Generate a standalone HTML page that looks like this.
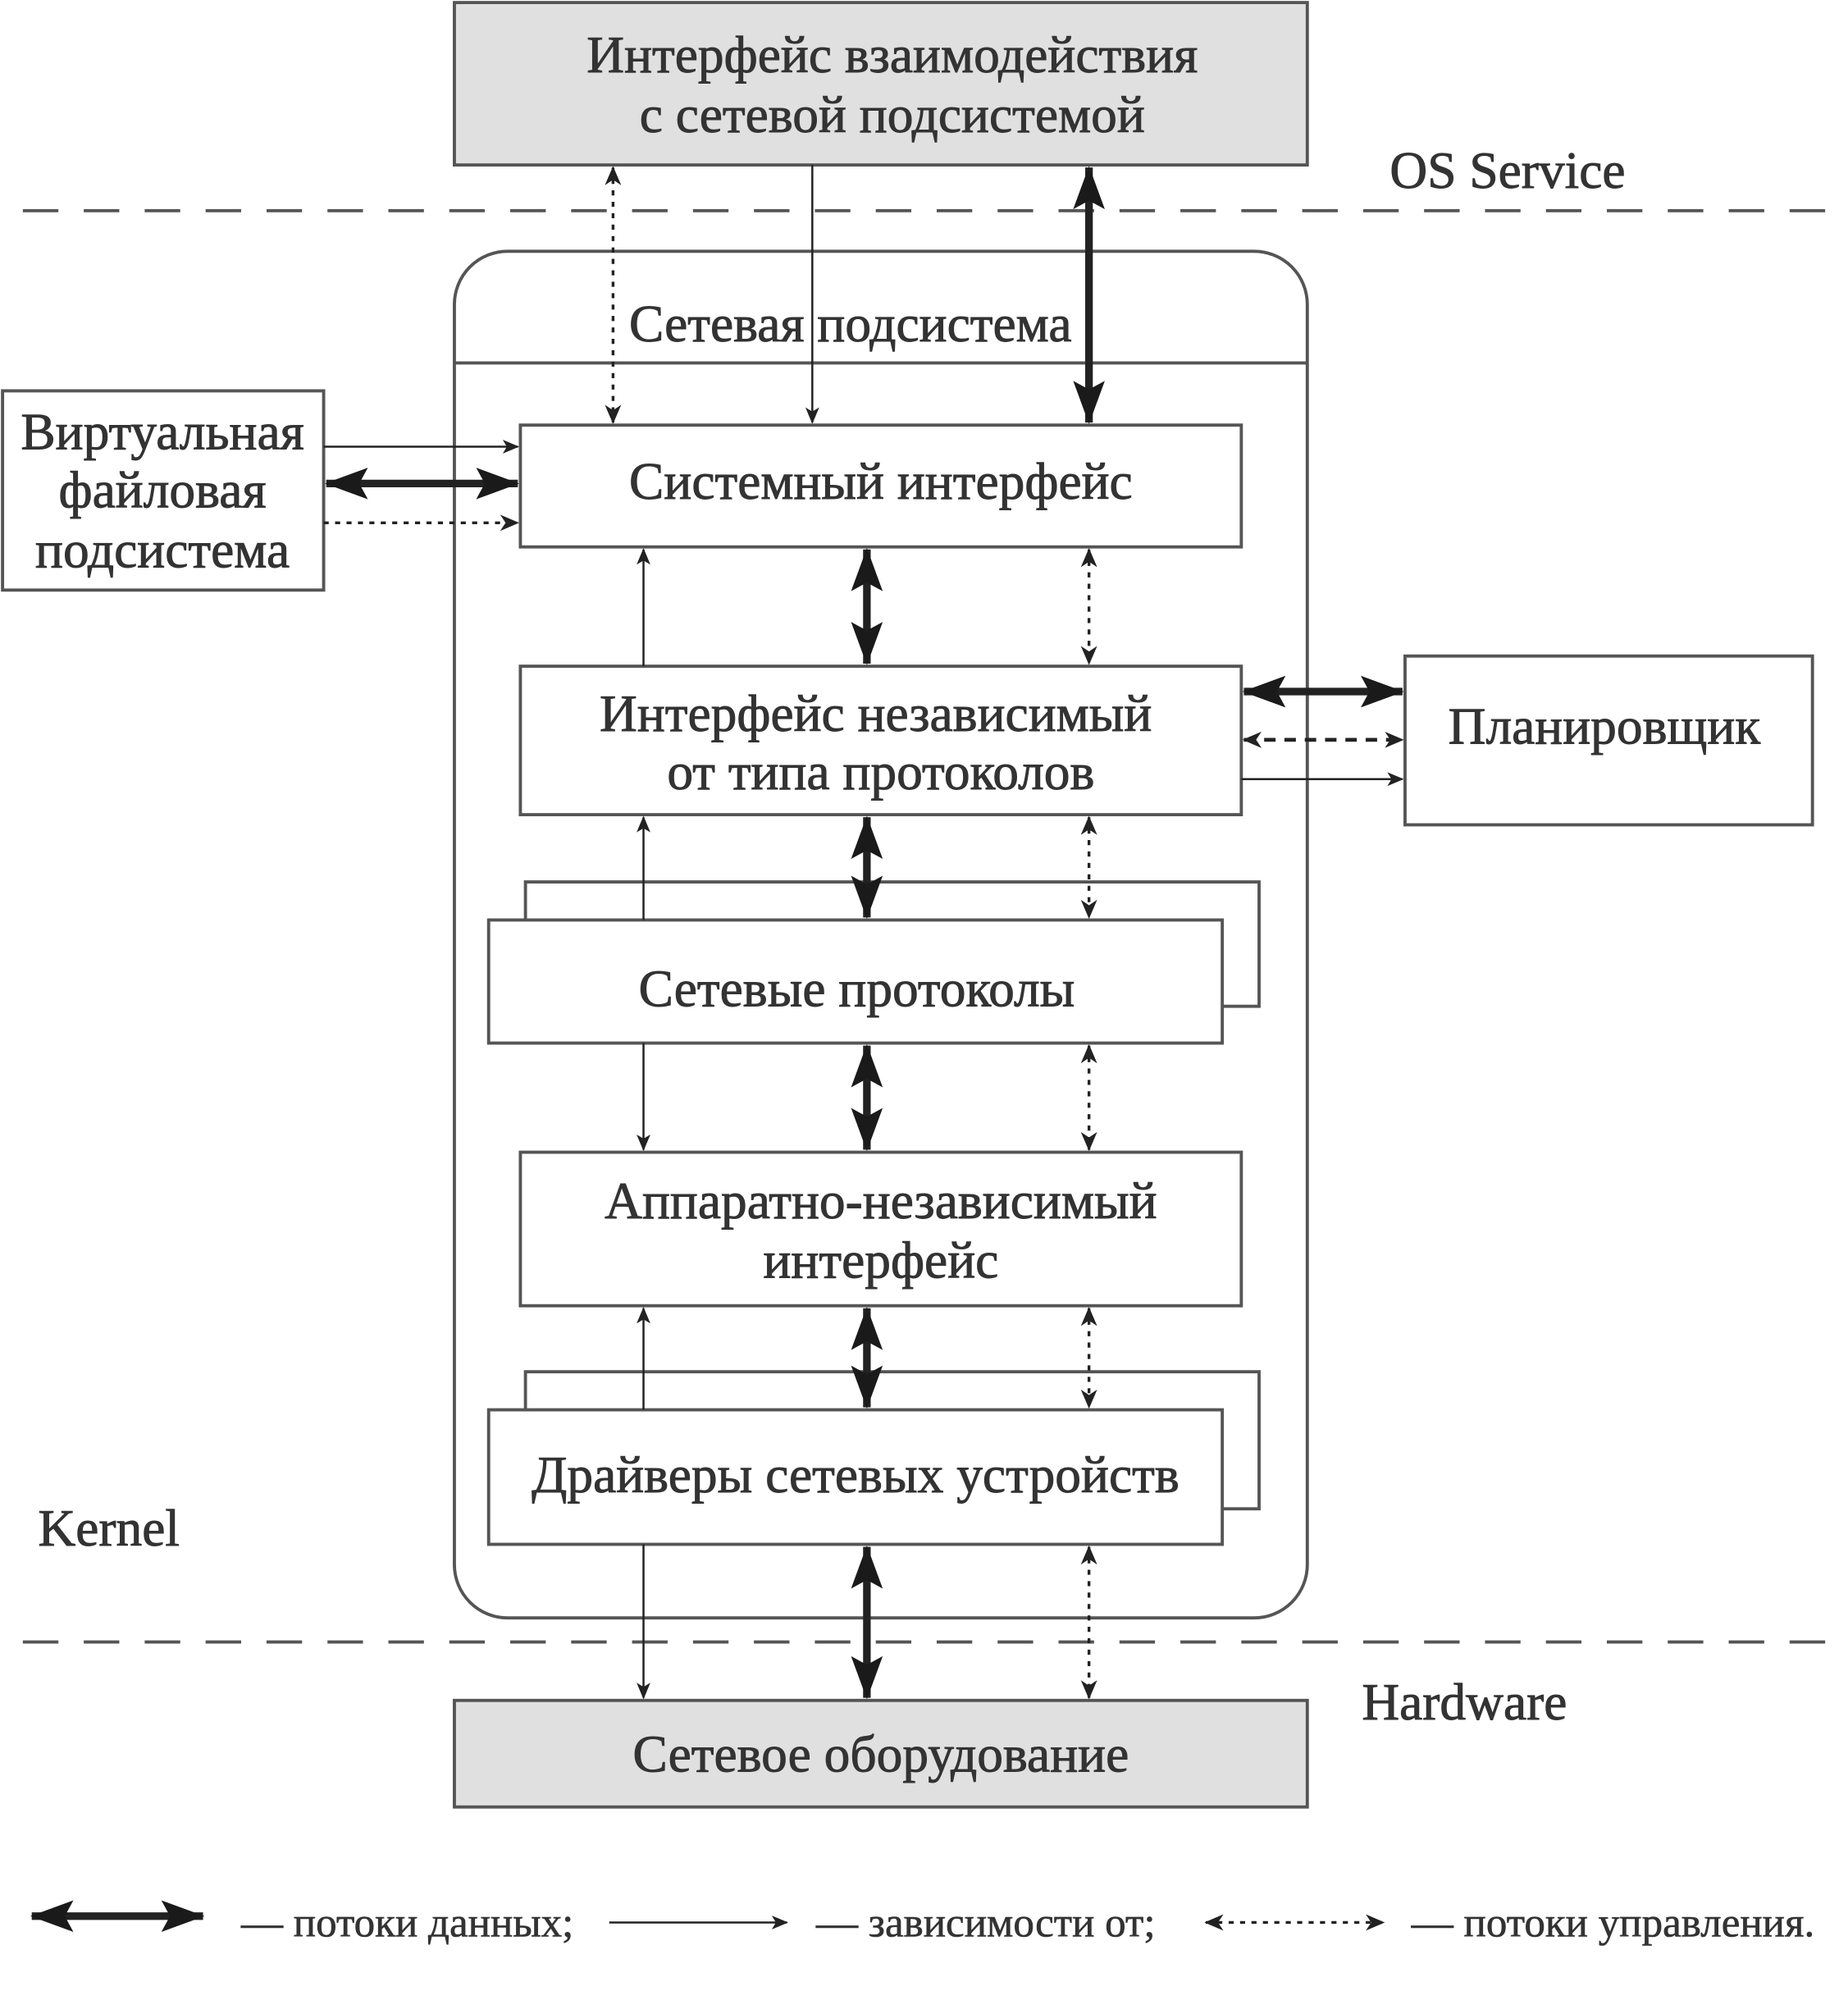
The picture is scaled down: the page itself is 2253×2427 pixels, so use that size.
<!DOCTYPE html>
<html><head><meta charset="utf-8"><style>
html,body{margin:0;padding:0;background:#fff;}
svg{display:block;}
text{font-family:"Liberation Serif",serif;fill:#333;stroke:#333;stroke-width:0.6;font-size:41px;}
</style></head><body>
<svg width="2253" height="2427" viewBox="0 0 1456 1569" preserveAspectRatio="none" xmlns="http://www.w3.org/2000/svg">
<defs>
<marker id="tA" viewBox="0 0 12 12" refX="11" refY="6" markerWidth="13" markerHeight="13" markerUnits="userSpaceOnUse" orient="auto-start-reverse"><path d="M0,1 L12,6 L0,11 L3,6 Z" fill="#222"/></marker>
<marker id="bA" viewBox="0 0 30 22" refX="29" refY="11" markerWidth="34" markerHeight="26" markerUnits="userSpaceOnUse" orient="auto-start-reverse"><path d="M0,0 L30,11 L0,22 L6,11 Z" fill="#1a1a1a"/></marker>
<marker id="dA" viewBox="0 0 14 14" refX="13" refY="7" markerWidth="15" markerHeight="15" markerUnits="userSpaceOnUse" orient="auto-start-reverse"><path d="M0,1 L14,7 L0,13 L4,7 Z" fill="#222"/></marker>
</defs>
<g stroke="#555" stroke-width="2.5" fill="none">
<rect x="358" y="2" width="672" height="128" fill="#e0e0e0"/>
<rect x="358" y="198" width="672" height="1077" rx="42"/>
<line x1="358" y1="286" x2="1030" y2="286"/>
<rect x="2" y="308" width="253" height="157" fill="#fff"/>
<rect x="410" y="335" width="568" height="96" fill="#fff"/>
<rect x="410" y="525" width="568" height="117" fill="#fff"/>
<rect x="1107" y="517" width="321" height="133" fill="#fff"/>
<rect x="414" y="695" width="578" height="98" fill="#fff"/>
<rect x="385" y="725" width="578" height="97" fill="#fff"/>
<rect x="410" y="908" width="568" height="121" fill="#fff"/>
<rect x="414" y="1081" width="578" height="108" fill="#fff"/>
<rect x="385" y="1111" width="578" height="106" fill="#fff"/>
<rect x="358" y="1340" width="672" height="84" fill="#e0e0e0"/>
<line x1="18" y1="166" x2="1456" y2="166" stroke-dasharray="28,20"/>
<line x1="18" y1="1294" x2="1456" y2="1294" stroke-dasharray="28,20"/>
</g>
<g fill="none" stroke="#222">
<g stroke-width="1.6" marker-end="url(#tA)">
<line x1="640" y1="130" x2="640" y2="333"/>
<line x1="255" y1="352" x2="408" y2="352"/>
<line x1="507" y1="525" x2="507" y2="433"/>
<line x1="978" y1="614" x2="1105" y2="614"/>
<line x1="507" y1="725" x2="507" y2="644"/>
<line x1="507" y1="822" x2="507" y2="906"/>
<line x1="507" y1="1111" x2="507" y2="1031"/>
<line x1="507" y1="1217" x2="507" y2="1338"/>
<line x1="480" y1="1515" x2="620" y2="1515"/>
</g>
<g stroke-width="6" marker-start="url(#bA)" marker-end="url(#bA)">
<line x1="858" y1="132" x2="858" y2="333"/>
<line x1="257" y1="381" x2="408" y2="381"/>
<line x1="683" y1="433" x2="683" y2="523"/>
<line x1="980" y1="545" x2="1105" y2="545"/>
<line x1="683" y1="644" x2="683" y2="723"/>
<line x1="683" y1="824" x2="683" y2="906"/>
<line x1="683" y1="1031" x2="683" y2="1109"/>
<line x1="683" y1="1219" x2="683" y2="1338"/>
<line x1="25" y1="1510" x2="160" y2="1510"/>
</g>
<g stroke-width="2.2" stroke-dasharray="4,5" marker-start="url(#dA)" marker-end="url(#dA)">
<line x1="483" y1="132" x2="483" y2="333"/>
<line x1="858" y1="433" x2="858" y2="523"/>
<line x1="858" y1="644" x2="858" y2="723"/>
<line x1="858" y1="824" x2="858" y2="906"/>
<line x1="858" y1="1031" x2="858" y2="1109"/>
<line x1="858" y1="1219" x2="858" y2="1338"/>
<line x1="950" y1="1515" x2="1090" y2="1515"/>
</g>
<line x1="255" y1="412" x2="408" y2="412" stroke-width="2.2" stroke-dasharray="4,5" marker-end="url(#dA)"/>
<line x1="980" y1="583" x2="1105" y2="583" stroke-width="3" stroke-dasharray="9,7" marker-start="url(#dA)" marker-end="url(#dA)"/>
</g>
<g text-anchor="middle">
<text x="703" y="57">Интерфейс взаимодействия</text>
<text x="703" y="104">с сетевой подсистемой</text>
<text x="670" y="269">Сетевая подсистема</text>
<text x="128" y="354">Виртуальная</text>
<text x="128" y="400">файловая</text>
<text x="128" y="447">подсистема</text>
<text x="694" y="393">Системный интерфейс</text>
<text x="690" y="576">Интерфейс независимый</text>
<text x="694" y="622">от типа протоколов</text>
<text x="1264" y="586">Планировщик</text>
<text x="675" y="793">Сетевые протоколы</text>
<text x="694" y="960">Аппаратно-независимый</text>
<text x="694" y="1007">интерфейс</text>
<text x="674" y="1176">Драйверы  сетевых устройств</text>
<text x="694" y="1396">Сетевое оборудование</text>
</g>
<text x="1095" y="148">OS Service</text>
<text x="30" y="1218">Kernel</text>
<text x="1073" y="1355">Hardware</text>
<text x="190" y="1526" style="font-size:33px;stroke-width:0.4">— потоки данных;</text>
<text x="643" y="1526" style="font-size:33px;stroke-width:0.4">— зависимости от;</text>
<text x="1112" y="1526" style="font-size:33px;stroke-width:0.4">— потоки управления.</text>
</svg>
</body></html>
